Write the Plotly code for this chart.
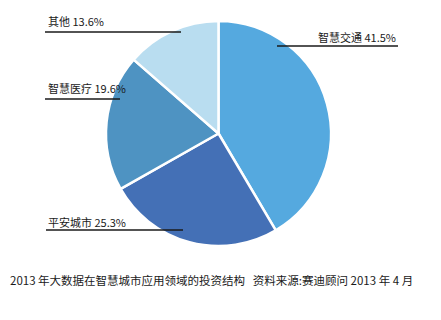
import plotly.graph_objects as go

categories = ["智慧交通", "平安城市", "智慧医疗", "其他"]
values = [41.5, 25.3, 19.6, 13.6]
colors = ["#55A9DF", "#4470B6", "#4E93C2", "#B9DDF0"]
caption = "2013 年大数据在智慧城市应用领域的投资结构   资料来源:赛迪顾问 2013 年 4 月"

W, H = 441, 320
FONT = "Noto Sans CJK SC"

fig = go.Figure(go.Pie(
    labels=categories,
    values=values,
    marker=dict(colors=colors, line=dict(color="white", width=2.5)),
    sort=False,
    direction="clockwise",
    rotation=0,
    textinfo="none",
    hoverinfo="label+percent",
    showlegend=False,
    domain=dict(x=[106 / W, 331 / W], y=[1 - 246 / H, 1 - 21 / H]),
))

# label placements (pixel positions): text anchor x, text y, line x0, x1, line y, xanchor
label_layout = {
    "其他": (46, 21, 45, 181, 32, "left"),
    "智慧医疗": (46, 88, 45, 120, 99, "left"),
    "智慧交通": (398, 37, 277, 398, 46, "right"),
    "平安城市": (46, 222, 46, 183, 230, "left"),
}

annotations = []
shapes = []
for cat, val in zip(categories, values):
    tx, ty, lx0, lx1, ly, anchor = label_layout[cat]
    annotations.append(dict(
        x=tx / W, y=1 - ty / H, xref="paper", yref="paper",
        text=f"{cat} {val}%", showarrow=False, xanchor=anchor, yanchor="middle",
        font=dict(family=FONT, size=11, color="#1a1a1a"),
    ))
    shapes.append(dict(
        type="line", xref="paper", yref="paper",
        x0=lx0 / W, x1=lx1 / W, y0=1 - ly / H, y1=1 - ly / H,
        line=dict(color="#1a1a1a", width=1.5),
    ))

annotations.append(dict(
    x=8 / W, y=1 - 280 / H, xref="paper", yref="paper",
    text=caption, showarrow=False, xanchor="left", yanchor="middle",
    font=dict(family=FONT, size=11.5, color="#1a1a1a"),
))

fig.update_layout(
    width=W, height=H,
    margin=dict(l=0, r=0, t=0, b=0),
    paper_bgcolor="white", plot_bgcolor="white",
    annotations=annotations, shapes=shapes,
)

fig.write_html("out.html")
